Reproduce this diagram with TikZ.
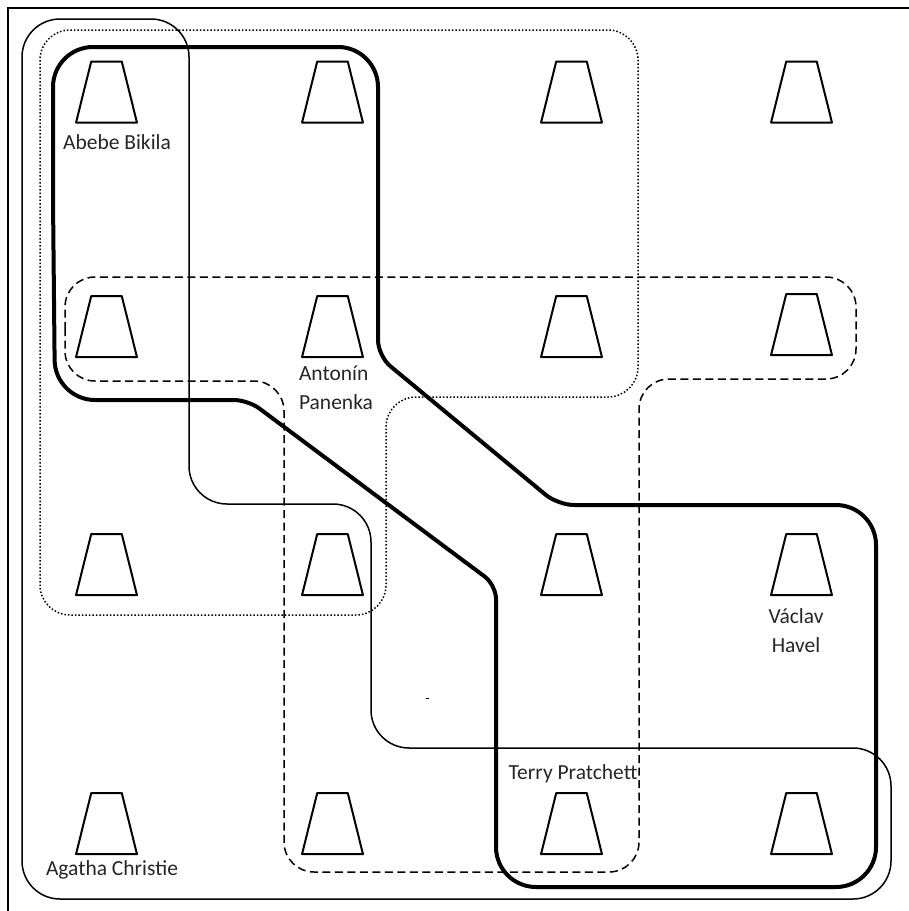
\documentclass[tikz,border=0pt]{standalone}
\usepackage{fontspec}
\setmainfont{Carlito}
\usetikzlibrary{positioning, shapes.geometric}

\begin{document}
\begin{tikzpicture}[x=1pt, y=-1pt,
  cup/.style={trapezium, draw, line width=2pt, line join=round, trapezium left angle=76, trapezium right angle=76,
    text width=1pt, text height=2pt, text depth=0pt,
    minimum width=30.5pt, minimum height=61pt, inner sep=0pt},
  name label/.style={font=\fontsize{21.5}{29}\selectfont, align=center, text=black!85},
  thin loop/.style={line width=1.5pt, rounded corners=38pt},
  dot loop/.style={line width=1.5pt, dash pattern=on 1.5pt off 2pt, rounded corners=30pt},
  dash loop/.style={line width=1.5pt, dash pattern=on 8pt off 4.5pt, rounded corners=30pt},
  thick loop/.style={line width=4pt, rounded corners=40pt}]

\useasboundingbox (0,0) rectangle (909,911);

% frame
\coordinate (frameTL) at (8,8);
\draw[line width=2.4pt] (8,911) -- (frameTL) -- (909,8);

% row 1
\node[cup] (A1) at (106.5,92) {};
\node[cup] (B1) [right of=A1, node distance=226pt] {};
\node[cup] (C1) [right of=B1, node distance=239pt] {};
\node[cup] (D1) [right of=C1, node distance=230pt] {};
% row 2
\node[cup] (A2) at (106.5,326.5) {};
\node[cup] (B2) [right of=A2, node distance=226pt] {};
\node[cup] (C2) [right of=B2, node distance=239pt] {};
\node[cup] (D2) at (801.5,324.5) {};
% row 3
\node[cup] (A3) at (106.5,564.5) {};
\node[cup] (B3) [right of=A3, node distance=226pt] {};
\node[cup] (C3) [right of=B3, node distance=239pt] {};
\node[cup] (D3) [right of=C3, node distance=230pt] {};
% row 4
\node[cup] (A4) at (106.5,823.5) {};
\node[cup] (B4) [right of=A4, node distance=226pt] {};
\node[cup] (C4) [right of=B4, node distance=239pt] {};
\node[cup] (D4) [right of=C4, node distance=230pt] {};

\node[name label] (abebe) at (117,142) {Abebe Bikila};
\node[name label, align=left] (antonin) at (336,388) {Antonín\\Panenka};
\node[name label] (vaclav) at (796,631) {Václav\\Havel};
\node[name label] (terry) at (573,774) {Terry Pratchett};
\node[name label] (agatha) at (112,870) {Agatha Christie};

% thin one
\draw[thin loop] (22,100) -- (22,19) -- (189,19) -- (189,504) -- (371,504) -- (371,748)
  -- (891,748) -- (891,899) -- (22,899) -- (22,100);

% dotted one
\draw[dot loop] (40,100) -- (40,30) -- (638,30) -- (638,397) -- (386,397) -- (386,615)
  -- (40,615) -- (40,100);

% dashed one
\draw[dash loop] (65,330) -- (65,277) -- (856,277) -- (856,379) -- (639,379) -- (639,872)
  -- (284,872) -- (284,381) -- (65,381) -- (65,330);

% heavy one
\draw[thick loop] (53,200) -- (53,47) -- (378,47) [rounded corners=16pt] -- (378,356)
  -- (558,505) [rounded corners=40pt] -- (876,505) -- (876,887)
  -- (496,887) [rounded corners=14pt] -- (496,585) -- (248,400)
  [rounded corners=40pt] -- (55,400) -- (53,200);

\fill (425.5,697.5) rectangle (428.5,699);
\end{tikzpicture}
\end{document}
